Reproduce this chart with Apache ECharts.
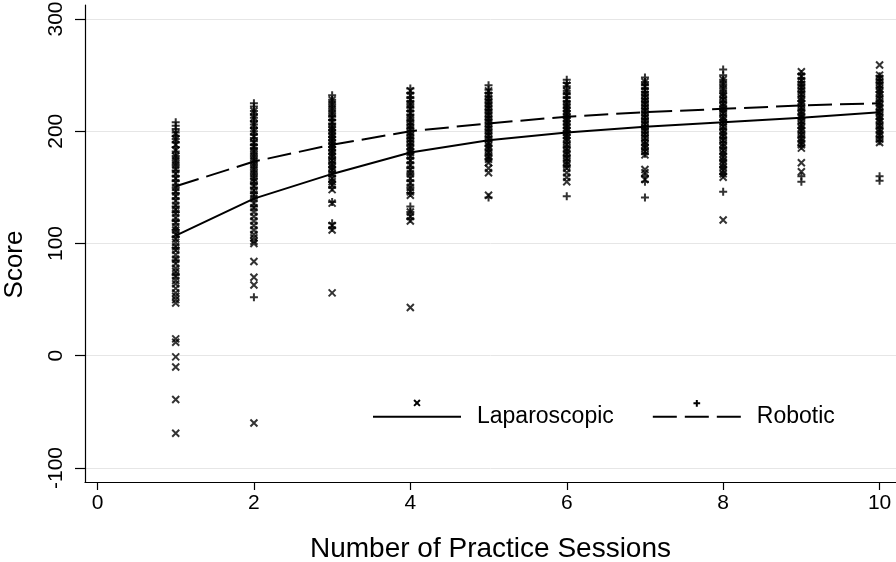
<!DOCTYPE html>
<html>
<head>
<meta charset="utf-8">
<script src="https://cdn.jsdelivr.net/npm/echarts@6/dist/echarts.min.js"></script>
<style>html,body{margin:0;padding:0;background:#fff;}#chart{width:896px;height:562px;}</style>
</head>
<body>
<div id="chart"></div>
<script>
// ---- data ----
const sessions = [1, 2, 3, 4, 5, 6, 7, 8, 9, 10];
const xTicks = [0, 2, 4, 6, 8, 10];
const yTicks = [-100, 0, 100, 200, 300];

const lapScores = [
  [-69, -39, -10, -1, 12, 15, 47, 50, 53, 56, 60, 64, 67, 71, 75, 78, 82, 86, 90, 94, 97, 101, 104, 108, 112, 115, 119, 123, 127, 130, 134, 138, 142, 146, 150, 154, 158, 162, 166, 170, 174, 178, 183, 188, 193, 198],
  [-60, 63, 70, 84, 100, 102, 105, 108, 112, 116, 120, 124, 128, 132, 136, 140, 144, 147, 151, 155, 158, 162, 166, 170, 174, 178, 182, 186, 190, 195, 200, 206, 212, 218],
  [56, 112, 116, 136, 148, 152, 155, 158, 162, 165, 168, 171, 174, 177, 180, 183, 186, 189, 192, 195, 198, 201, 204, 208, 212, 216, 220, 224, 228],
  [43, 120, 124, 128, 143, 146, 150, 154, 158, 162, 166, 170, 174, 178, 181, 184, 187, 190, 193, 196, 199, 202, 205, 208, 212, 216, 220, 224, 228, 232, 236],
  [143, 163, 167, 172, 175, 178, 181, 184, 187, 190, 193, 196, 199, 202, 205, 208, 211, 214, 217, 220, 223, 226, 229, 232, 236],
  [155, 159, 163, 167, 170, 173, 176, 179, 182, 185, 188, 191, 194, 197, 200, 203, 206, 209, 212, 215, 218, 221, 224, 228, 232, 236, 241],
  [157, 163, 166, 179, 182, 185, 188, 191, 194, 197, 200, 203, 206, 209, 212, 215, 218, 221, 224, 227, 230, 233, 236, 240, 244],
  [121, 159, 162, 165, 168, 171, 174, 177, 180, 183, 186, 189, 192, 195, 198, 201, 204, 207, 210, 213, 216, 219, 222, 225, 228, 231, 234, 238, 242, 246],
  [164, 172, 185, 188, 191, 194, 197, 200, 203, 206, 209, 212, 215, 218, 221, 224, 227, 230, 233, 236, 239, 242, 245, 249, 253],
  [190, 193, 196, 199, 202, 205, 208, 211, 214, 217, 220, 223, 226, 229, 232, 235, 238, 241, 244, 247, 250, 259]
];
const robScores = [
  [72, 85, 96, 106, 112, 120, 128, 133, 140, 145, 150, 156, 160, 165, 170, 174, 178, 182, 186, 190, 193, 196, 199, 202, 205, 208],
  [52, 133, 140, 145, 150, 154, 158, 162, 166, 170, 174, 178, 182, 185, 188, 191, 194, 197, 200, 203, 206, 209, 212, 215, 218, 222, 225],
  [114, 118, 137, 150, 155, 160, 164, 168, 172, 176, 180, 183, 186, 189, 192, 195, 198, 201, 204, 207, 210, 213, 216, 220, 224, 228, 232],
  [122, 128, 133, 145, 150, 156, 162, 167, 172, 176, 180, 184, 188, 191, 194, 197, 200, 203, 206, 209, 212, 215, 218, 221, 224, 227, 230, 234, 238],
  [141, 175, 179, 183, 187, 191, 195, 198, 201, 204, 207, 210, 213, 216, 219, 222, 225, 228, 231, 234, 237, 241],
  [142, 169, 174, 178, 182, 186, 190, 194, 197, 200, 203, 206, 209, 212, 215, 218, 221, 224, 227, 230, 233, 236, 240, 243, 246],
  [141, 155, 160, 180, 184, 188, 192, 196, 199, 202, 205, 208, 211, 214, 217, 220, 223, 226, 229, 232, 235, 238, 241, 244, 248],
  [146, 162, 168, 174, 180, 185, 190, 194, 198, 202, 206, 210, 214, 218, 222, 226, 230, 234, 238, 242, 246, 250, 255],
  [155, 160, 187, 191, 195, 199, 203, 207, 211, 215, 219, 223, 227, 231, 235, 238, 241, 244, 247, 251],
  [156, 160, 191, 195, 199, 203, 207, 211, 215, 219, 223, 227, 231, 235, 239, 243, 246, 249]
];
const lapFit = [107, 140, 162, 181, 192, 199, 204, 208, 212, 217];
const robFit = [151, 173, 188, 200, 207, 213, 217, 220, 223, 225];

// ---- build ----
function toPoints(groups) {
  const out = [];
  groups.forEach((vals, i) => vals.forEach(v => out.push([sessions[i], v])));
  return out;
}
function toLine(vals) { return vals.map((v, i) => [sessions[i], v]); }

const X_MARK = 'path://M0,0L10,10M10,0L0,10';
const PLUS_MARK = 'path://M5,0L5,10M0,5L10,5';
// legend icons: marker drawn above the line
const X_LEG = 'path://M8.25,0L11.75,3.5M11.75,0L8.25,3.5M0,20L0,20M20,20L20,20';
const PLUS_LEG = 'path://M10,0L10,4M8,2L12,2M0,20L0,20M20,20L20,20';

const FONT = 'Liberation Sans, Arial, Helvetica, sans-serif';

const chart = echarts.init(document.getElementById('chart'), null, {renderer: 'canvas'});
chart.setOption({
  animation: false,
  backgroundColor: '#fff',
  grid: {left: 85, right: 0, top: 5, bottom: 80, containLabel: false, outerBoundsMode: 'none'},
  legend: {
    left: 372, top: 399, padding: 0,
    itemWidth: 88, itemHeight: 42, itemGap: 38,
    textStyle: {fontFamily: FONT, fontSize: 23, color: '#000', padding: [0, 0, 0, 11]},
    data: ['Laparoscopic', 'Robotic']
  },
  xAxis: {
    type: 'value', min: -0.16, max: 10.21,
    name: 'Number of Practice Sessions', nameLocation: 'middle', nameGap: 53,
    nameTextStyle: {fontFamily: FONT, fontSize: 28, color: '#000'},
    axisLine: {show: true, onZero: false, lineStyle: {color: '#000', width: 1.2}},
    axisTick: {show: true, length: 8, customValues: xTicks, lineStyle: {color: '#000', width: 1.2}},
    axisLabel: {customValues: xTicks, margin: 11, fontFamily: FONT, fontSize: 21, color: '#000'},
    splitLine: {show: false}
  },
  yAxis: {
    type: 'value', min: -112.5, max: 312.5,
    name: 'Score', nameLocation: 'middle', nameGap: 57, nameRotate: 90,
    nameTextStyle: {fontFamily: FONT, fontSize: 26, color: '#000', padding: [0, 42, 0, 0]},
    axisLine: {show: true, onZero: false, lineStyle: {color: '#000', width: 1.2}},
    axisTick: {show: true, length: 10, customValues: yTicks, lineStyle: {color: '#000', width: 1.2}},
    axisLabel: {customValues: yTicks, rotate: 90, margin: 18, fontFamily: FONT, fontSize: 21, color: '#000'},
    splitLine: {show: true, lineStyle: {color: '#e6e6e6', width: 1}}
  },
  series: [
    {
      name: 'LapPts', type: 'scatter', data: toPoints(lapScores),
      symbol: X_MARK, symbolSize: 7,
      itemStyle: {color: '#000', borderColor: '#000', borderWidth: 2}, z: 2
    },
    {
      name: 'RobPts', type: 'scatter', data: toPoints(robScores),
      symbol: PLUS_MARK, symbolSize: 8,
      itemStyle: {color: '#000', borderColor: '#000', borderWidth: 2}, z: 2
    },
    {
      name: 'Laparoscopic', type: 'line', data: toLine(lapFit),
      showSymbol: false, symbol: X_LEG,
      itemStyle: {color: '#000', borderColor: '#000', borderWidth: 1.7},
      lineStyle: {color: '#000', width: 2, type: 'solid'}, z: 3
    },
    {
      name: 'Robotic', type: 'line', data: toLine(robFit),
      showSymbol: false, symbol: PLUS_LEG,
      itemStyle: {color: '#000', borderColor: '#000', borderWidth: 1.7},
      lineStyle: {color: '#000', width: 2, type: [24, 8]}, z: 3
    }
  ]
});
</script>
</body>
</html>
